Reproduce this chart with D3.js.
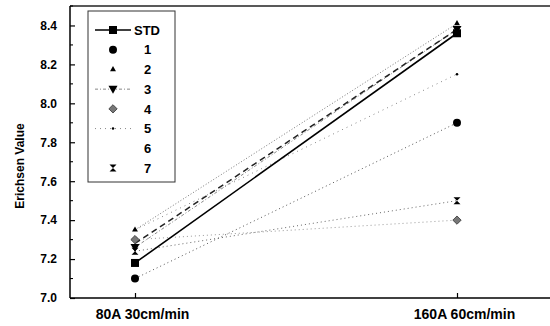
<!DOCTYPE html>
<html>
<head>
<meta charset="utf-8">
<script src="https://cdn.jsdelivr.net/npm/d3@7"></script>
<style>
  html, body { margin: 0; padding: 0; background: #fff; }
  svg { display: block; }
  text { font-family: "Liberation Sans", Arial, sans-serif; font-weight: bold; fill: #000; }
</style>
</head>
<body>
<svg id="chart" width="550" height="326"></svg>
<script>
// ---- data ----
const categories = ["80A 30cm/min", "160A 60cm/min"];
const seriesNames = ["STD", "1", "2", "3", "4", "5", "6", "7"];
const valuesSTD = [7.18, 8.36];
const values1 = [7.10, 7.90];
const values2 = [7.35, 8.41];
const values3 = [7.26, 8.38];
const values4 = [7.30, 7.40];
const values5 = [7.35, 8.15];
const values6 = [7.28, 8.38];
const values7 = [7.24, 7.50];
const yTicks = [7.0, 7.2, 7.4, 7.6, 7.8, 8.0, 8.2, 8.4];
const yLabel = "Erichsen Value";

const seriesValues = [valuesSTD, values1, values2, values3, values4, values5, values6, values7];

// ---- styles ----
const styles = [
  { stroke: "#000", width: 1.6, dash: null, marker: "square", size: 8, legendLine: true },
  { stroke: "#555", width: 1, dash: "1,3", marker: "circle", size: 8, legendLine: false },
  { stroke: "#777", width: 1, dash: "1,2", marker: "triangle", size: 5, legendLine: false },
  { stroke: "#888", width: 1, dash: "3,2,1,2", marker: "triangleDown", size: 9, legendLine: true },
  { stroke: "#999", width: 1, dash: "1,3", marker: "diamond", size: 7, legendLine: false },
  { stroke: "#888", width: 1, dash: "1,4", marker: "dot", size: 2.5, legendLine: true },
  { stroke: "#222", width: 1.5, dash: "6,4", marker: null, size: 0, legendLine: false },
  { stroke: "#666", width: 1, dash: "1,3", marker: "star", size: 7, legendLine: false }
];

const svg = d3.select("#chart");
const mLeft = 70, mRight = 552, mTop = 6, mBottom = 298;

const x = d3.scalePoint().domain(categories).range([135, 457]);
const y = d3.scaleLinear().domain([7.0, 8.5]).range([mBottom, mTop]);

// frame
svg.append("line").attr("x1", mLeft).attr("x2", mRight).attr("y1", mTop).attr("y2", mTop)
  .attr("stroke", "#222").attr("stroke-width", 1.3);
svg.append("line").attr("x1", mLeft).attr("x2", mLeft).attr("y1", mTop).attr("y2", mBottom)
  .attr("stroke", "#000").attr("stroke-width", 1.5);
svg.append("line").attr("x1", mLeft).attr("x2", mRight).attr("y1", mBottom).attr("y2", mBottom)
  .attr("stroke", "#000").attr("stroke-width", 1.6);

// y axis
const yAxis = d3.axisLeft(y).tickValues(yTicks).tickFormat(d3.format(".1f")).tickSize(-5).tickPadding(13);
const gy = svg.append("g").attr("transform", `translate(${mLeft},0)`).call(yAxis);
gy.select(".domain").remove();
gy.selectAll(".tick line").attr("stroke", "#000").attr("stroke-width", 1.2);
gy.selectAll(".tick text").style("font-size", "12px").style("font-family", "'Liberation Sans', Arial, sans-serif").style("font-weight", "bold");
// minor y ticks
const minor = d3.range(7.1, 8.5, 0.2);
svg.append("g").selectAll("line").data(minor).join("line")
  .attr("x1", mLeft).attr("x2", mLeft + 3)
  .attr("y1", d => y(d)).attr("y2", d => y(d))
  .attr("stroke", "#000").attr("stroke-width", 1.1);

// x axis
const xAxis = d3.axisBottom(x).tickSize(-5).tickPadding(11);
const gx = svg.append("g").attr("transform", `translate(0,${mBottom})`).call(xAxis);
gx.select(".domain").remove();
gx.selectAll(".tick line").attr("stroke", "#000").attr("stroke-width", 1.2);
gx.selectAll(".tick text").style("font-size", "14px").style("font-family", "'Liberation Sans', Arial, sans-serif").style("font-weight", "bold")
  .attr("dx", 7);

// y label
svg.append("text")
  .attr("transform", `translate(24,166) rotate(-90)`)
  .attr("text-anchor", "middle")
  .style("font-size", "12px")
  .text(yLabel);

// markers
function symbolPath(type, size) {
  const s = size;
  switch (type) {
    case "square": return d3.symbol(d3.symbolSquare, s * s)();
    case "circle": return d3.symbol(d3.symbolCircle, Math.PI * (s / 2) * (s / 2))();
    case "triangle": return d3.symbol(d3.symbolTriangle, s * s * 0.6)();
    case "triangleDown": return `M${-s/2},${-s/2.6}L${s/2},${-s/2.6}L0,${s/2}Z`;
    case "diamond": return d3.symbol(d3.symbolDiamond2, s * s * 0.9)();
    case "dot": return d3.symbol(d3.symbolCircle, Math.PI * s * s / 4)();
    case "star": return `M${-s/2},${-s/2}L${s/2},${-s/2}L${-s/2},${s/2}L${s/2},${s/2}Z`;
    default: return null;
  }
}

// lines
const line = d3.line().x((d, i) => x(categories[i])).y(d => y(d));
const plot = svg.append("g");
const order = [4, 7, 5, 1, 3, 2, 6, 0];
order.forEach(si => {
  const st = styles[si];
  plot.append("path").datum(seriesValues[si])
    .attr("d", line)
    .attr("fill", "none")
    .attr("stroke", st.stroke)
    .attr("stroke-width", st.width)
    .attr("stroke-dasharray", st.dash);
});
order.forEach(si => {
  const st = styles[si];
  if (!st.marker) return;
  plot.append("g").selectAll("path").data(seriesValues[si]).join("path")
    .attr("transform", (d, i) => `translate(${x(categories[i])},${y(d)})`)
    .attr("d", symbolPath(st.marker, st.size))
    .attr("fill", st.marker === "diamond" ? "#777" : "#000")
    .attr("stroke", st.marker === "diamond" ? "#333" : "none")
    .attr("stroke-width", 0.8);
});

// legend
const lg = svg.append("g");
lg.append("rect").attr("x", 88).attr("y", 11).attr("width", 87).attr("height", 171)
  .attr("fill", "#fff").attr("stroke", "#333").attr("stroke-width", 1);
const rowY = d3.scalePoint().domain(seriesNames).range([30, 168]);
seriesNames.forEach((name, si) => {
  const st = styles[si];
  const yy = rowY(name);
  if (st.legendLine) {
    lg.append("line").attr("x1", 95).attr("x2", 131).attr("y1", yy).attr("y2", yy)
      .attr("stroke", st.stroke).attr("stroke-width", st.width).attr("stroke-dasharray", st.dash);
  }
  if (st.marker) {
    lg.append("path").attr("transform", `translate(113,${yy})`)
      .attr("d", symbolPath(st.marker, st.size))
      .attr("fill", st.marker === "diamond" ? "#777" : "#000")
      .attr("stroke", st.marker === "diamond" ? "#333" : "none")
      .attr("stroke-width", 0.8);
  }
  lg.append("text").attr("x", si === 0 ? 134 : 144).attr("y", yy).attr("dy", "0.36em")
    .style("font-size", "13px").text(name);
});
</script>
</body>
</html>
